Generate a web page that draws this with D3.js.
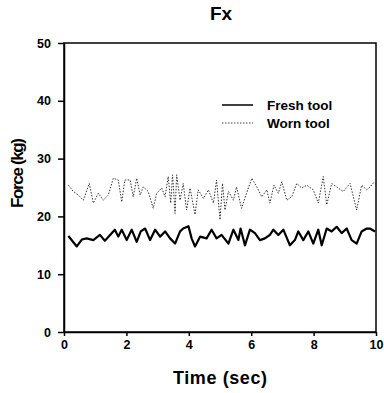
<!DOCTYPE html>
<html>
<head>
<meta charset="utf-8">
<script src="https://cdn.jsdelivr.net/npm/d3@7"></script>
<style>
  body { margin: 0; background: #fff; }
  svg { display: block; font-family: "Liberation Sans", Arial, sans-serif; font-weight: bold; }
</style>
</head>
<body>
<svg width="384" height="393"></svg>
<script>
const svgWidth = 384;
const svgHeight = 393;

const xTicks = [0, 2, 4, 6, 8, 10];
const yTicks = [0, 10, 20, 30, 40, 50];
const seriesNames = ["Fresh tool", "Worn tool"];

const freshTime = [0.14, 0.41, 0.57, 0.73, 0.94, 1.15, 1.31, 1.63, 1.74, 1.85, 2.01, 2.17, 2.33, 2.46, 2.6,
  2.76, 2.92, 3.08, 3.24, 3.4, 3.56, 3.72, 3.82, 3.99, 4.09, 4.2, 4.36, 4.57, 4.73, 4.89, 5.05, 5.27,
  5.43, 5.59, 5.66, 5.8, 5.96, 6.12, 6.28, 6.44, 6.6, 6.71, 6.87, 7.03, 7.24, 7.4, 7.51, 7.67, 7.83,
  7.99, 8.15, 8.26, 8.42, 8.58, 8.74, 8.9, 9.06, 9.22, 9.38, 9.54, 9.7, 9.8, 9.97];
const freshForce = [16.6, 14.8, 16.0, 16.2, 15.9, 16.8, 15.8, 17.7, 16.5, 17.7, 15.9, 17.7, 15.6, 17.4, 17.9,
  15.9, 17.7, 16.5, 17.4, 16.2, 15.3, 17.4, 17.9, 18.3, 16.2, 14.8, 16.5, 16.2, 17.7, 16.2, 16.8, 15.3,
  17.7, 15.9, 17.9, 15.0, 17.7, 17.1, 15.9, 16.2, 16.8, 17.7, 16.8, 17.7, 15.0, 15.9, 17.4, 15.9, 17.4,
  15.3, 17.7, 15.0, 17.9, 17.4, 18.2, 17.1, 17.9, 15.9, 15.3, 17.4, 17.9, 17.9, 17.4];

const wornTime = [0.14, 0.3, 0.46, 0.62, 0.81, 0.94, 1.1, 1.26, 1.42, 1.58, 1.74, 1.85, 1.95, 2.12, 2.22,
  2.33, 2.44, 2.54, 2.7, 2.86, 2.97, 3.13, 3.24, 3.34, 3.42, 3.48, 3.56, 3.61, 3.72, 3.82, 3.93, 4.04,
  4.2, 4.3, 4.47, 4.63, 4.79, 4.89, 5.0, 5.08, 5.16, 5.27, 5.43, 5.53, 5.69, 5.85, 6.02, 6.18, 6.34,
  6.5, 6.6, 6.73, 6.87, 6.98, 7.14, 7.3, 7.46, 7.62, 7.78, 7.99, 8.15, 8.31, 8.42, 8.58, 8.74, 8.95,
  9.17, 9.38, 9.54, 9.7, 9.81, 9.95];
const wornForce = [25.4, 24.3, 23.7, 22.8, 25.7, 22.3, 24.0, 22.8, 23.7, 26.6, 26.3, 22.5, 26.3, 26.3, 23.4,
  26.6, 23.7, 25.1, 24.3, 21.4, 24.0, 24.9, 23.4, 26.9, 22.3, 27.2, 20.5, 27.2, 22.8, 25.7, 21.1, 24.9,
  20.3, 24.6, 23.1, 24.6, 22.3, 26.3, 19.4, 25.7, 21.1, 24.3, 22.8, 25.1, 21.4, 24.0, 26.6, 25.1, 23.4,
  24.6, 22.3, 25.4, 24.0, 26.0, 22.8, 23.4, 25.7, 24.9, 25.4, 24.6, 22.3, 26.9, 22.0, 25.7, 25.1, 24.3,
  25.7, 21.1, 25.4, 24.6, 25.1, 26.0];

const margin = { left: 64, right: 8, top: 43, bottom: 61 };
const chartWidth = svgWidth - margin.left - margin.right;
const chartHeight = svgHeight - margin.top - margin.bottom;

const svg = d3.select("svg");

const chartGroup = svg
  .append("g")
  .attr("transform", `translate(${margin.left}, ${margin.top})`);

const xScaler = d3.scaleLinear().domain([0, 10]).range([0, chartWidth]);
const yScaler = d3.scaleLinear().domain([0, 50]).range([chartHeight, 0]);

// frame
chartGroup
  .append("rect")
  .attr("width", chartWidth)
  .attr("height", chartHeight)
  .attr("fill", "none")
  .attr("stroke", "#000")
  .attr("stroke-width", 1.5);

const xAxisGroup = chartGroup
  .append("g")
  .attr("transform", `translate(0, ${chartHeight})`)
  .call(d3.axisBottom(xScaler).tickValues(xTicks).tickSize(4).tickPadding(4).tickSizeOuter(0));

const yAxisGroup = chartGroup
  .append("g")
  .call(d3.axisLeft(yScaler).tickValues(yTicks).tickSize(6).tickPadding(7).tickSizeOuter(0));

[xAxisGroup, yAxisGroup].forEach((g) => {
  g.select(".domain").attr("stroke-width", 1.5);
  g.selectAll(".tick line").attr("stroke-width", 1.5);
  g.selectAll("text")
    .attr("font-size", 12.5)
    .attr("font-weight", "bold")
    .attr("font-family", "Liberation Sans, Arial, sans-serif")
    .attr("fill", "#000");
});

const line = d3
  .line()
  .x((d) => xScaler(d[0]))
  .y((d) => yScaler(d[1]));

chartGroup
  .append("path")
  .datum(wornTime.map((t, i) => [t, wornForce[i]]))
  .attr("d", line)
  .attr("fill", "none")
  .attr("stroke", "#333")
  .attr("stroke-width", 1)
  .attr("stroke-dasharray", "1.5,1.5");

chartGroup
  .append("path")
  .datum(freshTime.map((t, i) => [t, freshForce[i]]))
  .attr("d", line)
  .attr("fill", "none")
  .attr("stroke", "#000")
  .attr("stroke-width", 2.2)
  .attr("stroke-linejoin", "round");

// legend
const legend = svg.append("g").attr("transform", "translate(222, 105)");
seriesNames.forEach((name, i) => {
  const row = legend.append("g").attr("transform", `translate(0, ${i * 18})`);
  row
    .append("line")
    .attr("x1", 0)
    .attr("x2", 31)
    .attr("stroke", i === 0 ? "#000" : "#444")
    .attr("stroke-width", i === 0 ? 1.5 : 1)
    .attr("stroke-dasharray", i === 0 ? null : "1.5,1.5");
  row
    .append("text")
    .attr("x", 45)
    .attr("dy", "0.35em")
    .attr("font-size", 13.5)
    .text(name);
});

// titles
svg
  .append("text")
  .attr("x", 221)
  .attr("y", 20)
  .attr("text-anchor", "middle")
  .attr("font-size", 19)
  .text("Fx");

svg
  .append("text")
  .attr("x", margin.left + chartWidth / 2)
  .attr("y", 384)
  .attr("text-anchor", "middle")
  .attr("font-size", 18)
  .attr("textLength", 94)
  .text("Time (sec)");

svg
  .append("text")
  .attr("transform", "translate(23, 173) rotate(-90)")
  .attr("text-anchor", "middle")
  .attr("font-size", 17)
  .attr("textLength", 70)
  .text("Force (kg)");
</script>
</body>
</html>
